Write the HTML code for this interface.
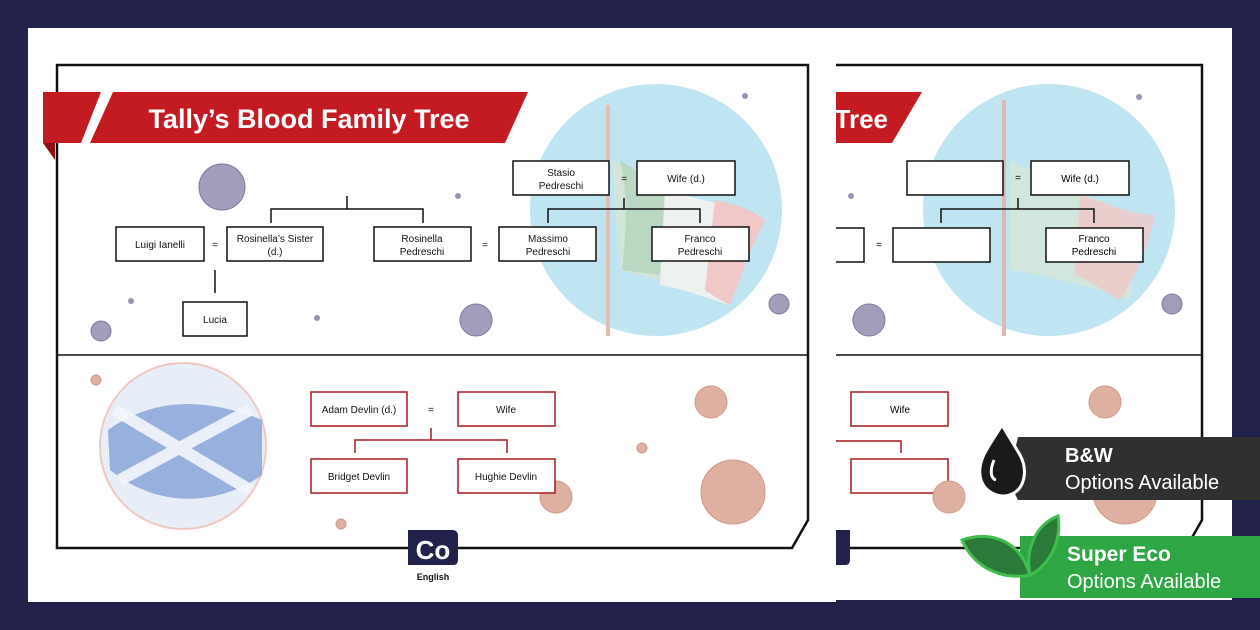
<!DOCTYPE html>
<html><head><meta charset="utf-8"><style>
html,body{margin:0;padding:0;background:#22214a;}
svg{display:block;font-family:"Liberation Sans",sans-serif;}
</style></head><body>
<svg width="1260" height="630" viewBox="0 0 1260 630" xmlns="http://www.w3.org/2000/svg">
<defs>
<clipPath id="backclip"><rect x="836" y="0" width="424" height="630"/></clipPath>
</defs>
<rect width="1260" height="630" fill="#22214a"/>
<!-- back page -->
<rect x="826" y="28" width="406" height="572" fill="#fff"/>
<g clip-path="url(#backclip)">
  <path d="M450,65 H1202 V520 L1186,548 H450" fill="none" stroke="#111" stroke-width="2.5"/>
  <line x1="450" y1="355" x2="1202" y2="355" stroke="#111" stroke-width="1.5"/>
  <polygon points="510,92 922,92 892,143 480,143" fill="#c41a21"/>
  <text x="888" y="128" font-size="26" font-weight="bold" fill="#fff" text-anchor="end">Tree</text>
  <circle cx="1049" cy="210" r="126" fill="#bfe4f2"/>
  <rect x="1002" y="100" width="4" height="236" fill="#e0b8b0"/>
  <path d="M1010,160 C1040,175 1070,190 1100,200 C1130,215 1140,230 1130,300 C1100,290 1070,280 1010,270 Z" fill="#d3e6da" opacity="0.9"/>
  <path d="M1080,195 C1110,205 1135,215 1155,215 C1150,240 1140,270 1120,300 C1100,290 1090,280 1075,275 Z" fill="#f0c8c8" opacity="0.8"/>
  <circle cx="1139" cy="97" r="3" fill="#9a94b3"/>
  <circle cx="1172" cy="304" r="10" fill="#a39dbb" stroke="#7f789c"/>
  <circle cx="869" cy="320" r="16" fill="#a39dbb" stroke="#7f789c"/>
  <circle cx="851" cy="196" r="3" fill="#9a94b3"/>
  <rect x="907" y="161" width="96" height="34" fill="#fff" stroke="#111" stroke-width="1.5"/>
  <text x="1018" y="181" font-size="10" text-anchor="middle">=</text>
  <rect x="1031" y="161" width="98" height="34" fill="#fff" stroke="#111" stroke-width="1.5"/>
  <text x="1080" y="182" font-size="10" text-anchor="middle">Wife (d.)</text>
  <path d="M941,223 V209 H1094 V223 M1018,209 V198" fill="none" stroke="#111" stroke-width="1.5"/>
  <rect x="830" y="228" width="34" height="34" fill="#fff" stroke="#111" stroke-width="1.5"/>
  <text x="879" y="248" font-size="10" text-anchor="middle">=</text>
  <rect x="893" y="228" width="97" height="34" fill="#fff" stroke="#111" stroke-width="1.5"/>
  <rect x="1046" y="228" width="97" height="34" fill="#fff" stroke="#111" stroke-width="1.5"/>
  <text x="1094" y="242" font-size="10" text-anchor="middle">Franco</text>
  <text x="1094" y="255" font-size="10" text-anchor="middle">Pedreschi</text>
  <rect x="851" y="392" width="97" height="34" fill="#fff" stroke="#a81a1f" stroke-width="1.5"/>
  <text x="900" y="413" font-size="10" text-anchor="middle">Wife</text>
  <path d="M820,441 H901 V453" fill="none" stroke="#a81a1f" stroke-width="1.5"/>
  <rect x="851" y="459" width="97" height="34" fill="#fff" stroke="#a81a1f" stroke-width="1.5"/>
  <circle cx="1105" cy="402" r="16" fill="#deb0a2" stroke="#d09a8a"/>
  <circle cx="949" cy="497" r="16" fill="#deb0a2" stroke="#d09a8a"/>
  <circle cx="1125" cy="492" r="32" fill="#deb0a2" stroke="#d09a8a"/>
  <path d="M800,530 H850 V560 Q850,565 845,565 H800 Z" fill="#22214a"/>
</g>
<!-- front page -->
<rect x="28" y="28" width="808" height="574" fill="#fff"/>
<path d="M57,65 H808 V520 L792,548 H57 Z" fill="none" stroke="#111" stroke-width="2.5"/>
<line x1="57" y1="355" x2="808" y2="355" stroke="#111" stroke-width="1.5"/>
<!-- banner -->
<polygon points="43,92 101,92 81,143 43,143" fill="#c41a21"/>
<polygon points="43,143 55,143 55,160" fill="#8e1016"/>
<polygon points="113,92 528,92 505,143 90,143" fill="#c41a21"/>
<text x="309" y="128" font-size="27" font-weight="bold" fill="#fff" text-anchor="middle">Tally’s Blood Family Tree</text>
<!-- italy circle -->
<circle cx="656" cy="210" r="126" fill="#bfe4f2"/>
<rect x="606" y="105" width="4" height="231" fill="#e3bdb2"/>
<path d="M612,160 C640,170 660,180 690,195 L660,280 L620,270 Z" fill="#d3e4d8"/>
<path d="M620,160 C630,200 625,240 622,270 L660,275 L665,190 Z" fill="#b3d3bc" opacity="0.8"/>
<path d="M665,190 C700,200 730,205 760,215 C745,240 735,270 730,305 C710,300 690,290 660,285 Z" fill="#edf1ef"/>
<path d="M715,200 C740,205 755,212 765,220 C750,250 740,280 730,305 C720,300 712,295 705,290 Z" fill="#f0c8c8"/>
<!-- purple dots -->
<circle cx="222" cy="187" r="23" fill="#a39dbb" stroke="#7f789c"/>
<circle cx="476" cy="320" r="16" fill="#a39dbb" stroke="#7f789c"/>
<circle cx="101" cy="331" r="10" fill="#a39dbb" stroke="#7f789c"/>
<circle cx="779" cy="304" r="10" fill="#a39dbb" stroke="#7f789c"/>
<circle cx="458" cy="196" r="3" fill="#9a94b3"/>
<circle cx="131" cy="301" r="3" fill="#9a94b3"/>
<circle cx="317" cy="318" r="3" fill="#9a94b3"/>
<circle cx="745" cy="96" r="3" fill="#9a94b3"/>
<!-- tree top -->
<g stroke="#111" stroke-width="1.5" fill="#fff">
<rect x="116" y="227" width="88" height="34"/>
<rect x="227" y="227" width="96" height="34"/>
<rect x="374" y="227" width="97" height="34"/>
<rect x="499" y="227" width="97" height="34"/>
<rect x="652" y="227" width="97" height="34"/>
<rect x="513" y="161" width="96" height="34"/>
<rect x="637" y="161" width="98" height="34"/>
<rect x="183" y="302" width="64" height="34"/>
<path d="M271,223 V209 H423 V223 M347,209 V196 M215,270 V293 M548,223 V209 H700 V223 M624,209 V198" fill="none"/>
</g>
<g font-size="10" text-anchor="middle" fill="#111">
<text x="160" y="248">Luigi Ianelli</text>
<text x="215" y="248">=</text>
<text x="275" y="242">Rosinella’s Sister</text>
<text x="275" y="255">(d.)</text>
<text x="422" y="242">Rosinella</text>
<text x="422" y="255">Pedreschi</text>
<text x="485" y="248">=</text>
<text x="548" y="242">Massimo</text>
<text x="548" y="255">Pedreschi</text>
<text x="700" y="242">Franco</text>
<text x="700" y="255">Pedreschi</text>
<text x="561" y="176">Stasio</text>
<text x="561" y="189">Pedreschi</text>
<text x="624" y="182">=</text>
<text x="686" y="182">Wife (d.)</text>
<text x="215" y="323">Lucia</text>
</g>
<!-- scotland circle -->
<circle cx="183" cy="446" r="83" fill="#e8eef8" stroke="#f0c8c0" stroke-width="2"/>
<path d="M108,430 C150,400 200,395 262,420 L262,475 C220,505 160,510 110,470 Z" fill="#7d9bd4" opacity="0.75"/>
<path d="M115,410 L250,490 M120,480 L250,410" stroke="#f4f6fb" stroke-width="12" opacity="0.9"/>
<!-- salmon dots -->
<circle cx="711" cy="402" r="16" fill="#deb0a2" stroke="#d09a8a"/>
<circle cx="556" cy="497" r="16" fill="#deb0a2" stroke="#d09a8a"/>
<circle cx="733" cy="492" r="32" fill="#deb0a2" stroke="#d09a8a"/>
<circle cx="642" cy="448" r="5" fill="#deb0a2" stroke="#d09a8a"/>
<circle cx="341" cy="524" r="5" fill="#deb0a2" stroke="#d09a8a"/>
<circle cx="96" cy="380" r="5" fill="#deb0a2" stroke="#d09a8a"/>
<!-- scottish tree -->
<g stroke="#a81a1f" stroke-width="1.5" fill="#fff">
<rect x="311" y="392" width="96" height="34"/>
<rect x="458" y="392" width="97" height="34"/>
<rect x="311" y="459" width="96" height="34"/>
<rect x="458" y="459" width="97" height="34"/>
<path d="M431,428 V440 H355 V453 M431,440 H507 V453" fill="none"/>
</g>
<g font-size="10" text-anchor="middle" fill="#111">
<text x="359" y="413">Adam Devlin (d.)</text>
<text x="431" y="413">=</text>
<text x="506" y="413">Wife</text>
<text x="359" y="480">Bridget Devlin</text>
<text x="506" y="480">Hughie Devlin</text>
</g>
<!-- logo -->
<path d="M408,530 H452 Q458,530 458,536 V560 Q458,565 453,565 H408 Z" fill="#22214a"/>
<text x="433" y="559" font-size="26" font-weight="bold" fill="#fff" text-anchor="middle">Co</text>
<text x="433" y="580" font-size="9" font-weight="bold" fill="#111" text-anchor="middle">English</text>
<!-- B&W badge -->
<polygon points="1018,437 1260,437 1260,500 1018,500 1008,480" fill="#303030"/>
<path d="M1002,425 C990,445 978,458 980,475 C982,492 1000,500 1012,494 C1025,488 1028,470 1020,455 C1014,445 1008,435 1002,425 Z" fill="#1a1a1a" stroke="#fff" stroke-width="3"/>
<path d="M994,460 C990,470 990,478 996,480" stroke="#fff" stroke-width="3" fill="none"/>
<text x="1065" y="462" font-size="20" font-weight="bold" fill="#fff">B&amp;W</text>
<text x="1065" y="489" font-size="20" fill="#fff">Options Available</text>
<!-- eco badge -->
<polygon points="1020,536 1260,536 1260,598 1020,598" fill="#2fa644"/>
<path d="M962,540 C990,530 1020,540 1030,575 C1005,580 975,570 962,540 Z" fill="#2c7a3a" stroke="#3fbf4f" stroke-width="3"/>
<path d="M1030,575 C1025,550 1035,525 1058,516 C1062,540 1050,565 1030,575 Z" fill="#2c7a3a" stroke="#3fbf4f" stroke-width="3"/>
<text x="1067" y="561" font-size="21" font-weight="bold" fill="#fff">Super Eco</text>
<text x="1067" y="588" font-size="20" fill="#fff">Options Available</text>
</svg>
</body></html>
